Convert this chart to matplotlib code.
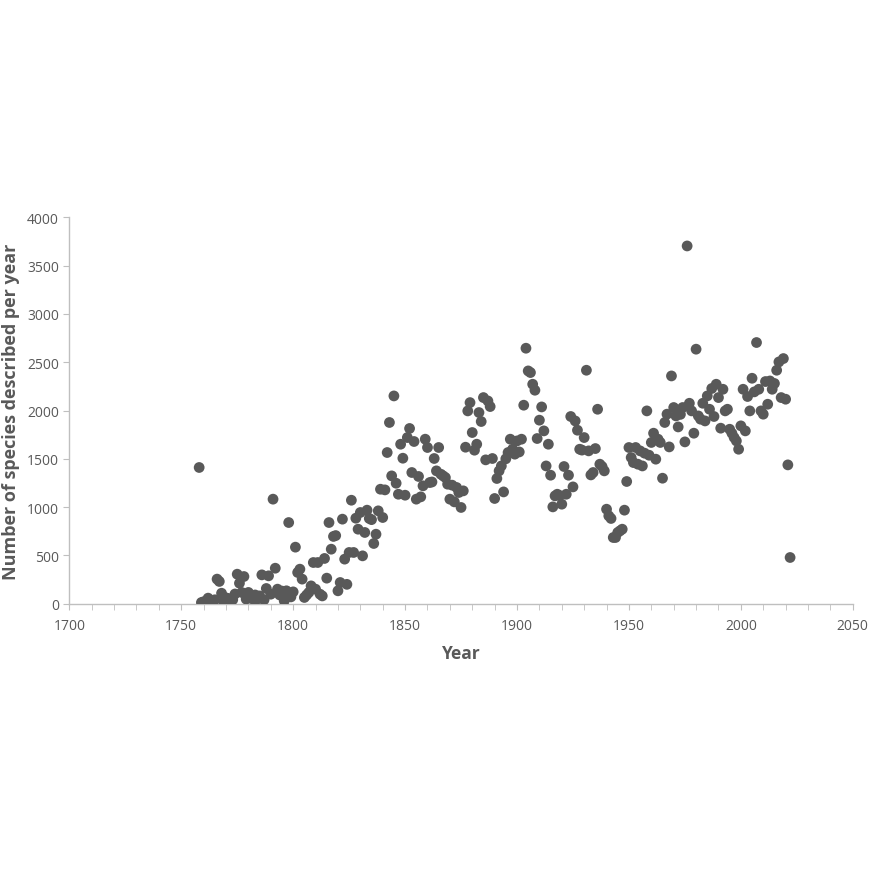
import matplotlib
matplotlib.use("Agg")
from matplotlib import pyplot as plt
from matplotlib.ticker import MultipleLocator

# species described per year
years = list(range(1758, 2023))
counts = [
    1410, 12, 20, 10, 57, 30, 23, 40, 254, 230,        # 1758-1767
    108, 19, 60, 53, 30, 40, 100, 305, 212, 116,       # 1768-1777
    281, 47, 116, 60, 47, 90, 47, 80, 298, 40,         # 1778-1787
    157, 288, 98, 1082, 367, 150, 90, 130, 29, 133,    # 1788-1797
    840, 70, 122, 585, 323, 357, 254, 64, 90, 116,     # 1798-1807
    184, 426, 150, 426, 98, 80, 468, 264, 840, 564,    # 1808-1817
    696, 705, 133, 219, 875, 461, 200, 530, 1071, 530, # 1818-1827
    885, 771, 944, 495, 737, 968, 882, 870, 623, 719,  # 1828-1837
    961, 1185, 892, 1178, 1565, 1876, 1323, 2151, 1247, 1133,  # 1838-1847
    1651, 1506, 1123, 1720, 1814, 1358, 1679, 1082, 1317, 1106, # 1848-1857
    1220, 1703, 1617, 1254, 1260, 1503, 1375, 1617, 1340, 1323, # 1858-1867
    1306, 1237, 1082, 1227, 1054, 1203, 1151, 996, 1168, 1620,  # 1868-1877
    1996, 2082, 1772, 1589, 1651, 1979, 1886, 2134, 1489, 2099, # 1878-1887
    2041, 1503, 1089, 1296, 1375, 1426, 1157, 1500, 1565, 1703, # 1888-1897
    1599, 1548, 1685, 1571, 1703, 2055, 2645, 2410, 2393, 2272, # 1898-1907
    2210, 1710, 1900, 2037, 1789, 1426, 1651, 1330, 1002, 1116, # 1908-1917
    1133, 1120, 1030, 1420, 1133, 1330, 1938, 1209, 1892, 1796, # 1918-1927
    1599, 1590, 1720, 2417, 1582, 1333, 1358, 1606, 2013, 1444, # 1928-1937
    1420, 1375, 978, 909, 882, 685, 685, 737, 754, 771,         # 1938-1947
    968, 1265, 1617, 1513, 1461, 1617, 1444, 1582, 1426, 1558,  # 1948-1957
    1996, 1537, 1669, 1765, 1496, 1703, 1669, 1299, 1876, 1962, # 1958-1967
    1623, 2358, 2031, 1944, 1830, 1960, 2031, 1675, 3704, 2075, # 1968-1977
    1996, 1765, 2635, 1944, 1910, 2075, 1892, 2151, 2013, 2228, # 1978-1987
    1938, 2272, 2134, 1817, 2220, 1996, 2013, 1806, 1765, 1720, # 1988-1997
    1685, 1599, 1841, 2220, 1789, 2145, 1996, 2334, 2193, 2704, # 1998-2007
    2220, 1996, 1962, 2300, 2065, 2306, 2220, 2280, 2417, 2503, # 2008-2017
    2134, 2538, 2117, 1437, 478,                                # 2018-2022
]

grey = "#595959"
axis_grey = "#bfbfbf"
plt.rcParams["font.family"] = ["Open Sans", "DejaVu Sans"]

fig = plt.figure(figsize=(8.7, 8.7), dpi=100)
ax = fig.add_axes([0.0797, 0.305, 0.9005, 0.444])

ax.scatter(years, counts, s=60, color=grey, edgecolors="none", zorder=3)

ax.set_xlim(1700, 2050)
ax.set_ylim(0, 4000)
ax.xaxis.set_major_locator(MultipleLocator(50))
ax.xaxis.set_minor_locator(MultipleLocator(10))
ax.yaxis.set_major_locator(MultipleLocator(500))

for side in ["top", "right"]:
    ax.spines[side].set_visible(False)
for side in ["left", "bottom"]:
    ax.spines[side].set_color(axis_grey)
    ax.spines[side].set_linewidth(1.0)

ax.tick_params(axis="both", which="both", direction="out", length=4,
               color=axis_grey, labelcolor=grey, labelsize=10)
ax.tick_params(axis="x", pad=6)

ax.set_xlabel("Year", fontsize=12.5, fontweight="bold", color=grey, labelpad=8)
ax.set_ylabel("Number of species described per year", fontsize=13,
              fontweight="bold", color=grey, labelpad=5)

fig.savefig("out.png", dpi=100, facecolor="white")
